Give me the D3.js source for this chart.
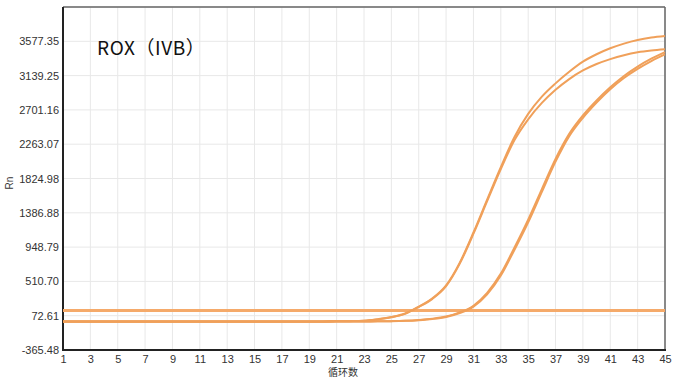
<!DOCTYPE html>
<html>
<head>
<meta charset="utf-8">
<script src="https://cdn.jsdelivr.net/npm/d3@7/dist/d3.min.js"></script>
<style>
html,body{margin:0;padding:0;background:#fff;}
svg{display:block;}
</style>
</head>
<body>
<svg id="chart" width="673" height="381"></svg>
<script>
// ---- data ----
const cycles = d3.range(1, 46);
const yTickValues = [-365.48, 72.61, 510.70, 948.79, 1386.88, 1824.98, 2263.07, 2701.16, 3139.25, 3577.35];
const yTickLabels = ["-365.48", "72.61", "510.70", "948.79", "1386.88", "1824.98", "2263.07", "2701.16", "3139.25", "3577.35"];
const xTickValues = [1,3,5,7,9,11,13,15,17,19,21,23,25,27,29,31,33,35,37,39,41,43,45];
const threshold = 140;
// amplification curves (Rn per cycle 1..45)
const earlyA = [2,2,2,2,2,2,2,2,2,2,2,2,2,2,2,2,2,2,3,3,4,5,9,28,55,100,188,295,460,750,1135,1555,1970,2355,2650,2870,3040,3188,3317,3412,3488,3548,3594,3625,3645];
const earlyB = [-2,-2,-2,-2,-2,-2,-2,-2,-2,-2,-2,-2,-2,-2,-2,-2,-2,-2,-1,0,1,3,7,25,52,96,183,288,450,738,1120,1535,1945,2315,2580,2790,2958,3095,3205,3287,3350,3400,3437,3460,3475];
const lateA = [-4,-4,-4,-4,-4,-4,-4,-4,-4,-4,-4,-4,-4,-4,-4,-4,-4,-4,-4,-4,-3,-2,-1,1,3,8,18,34,62,115,200,365,610,945,1300,1690,2075,2395,2630,2822,2990,3135,3255,3355,3440];
const lateB = [-4,-4,-4,-4,-4,-4,-4,-4,-4,-4,-4,-4,-4,-4,-4,-4,-4,-4,-4,-4,-3,-2,-1,1,3,7,16,31,57,107,188,345,585,915,1265,1655,2040,2365,2600,2795,2965,3108,3225,3325,3410];
const seriesList = [earlyA, earlyB, lateA, lateB];

// ---- layout ----
const svg = d3.select("#chart");
const m = {left: 63, right: 665, top: 7, bottom: 350};
const x = d3.scaleLinear().domain([1, 45]).range([m.left, m.right]);
const yStep = 438.0922;
const y = d3.scaleLinear().domain([-365.48, -365.48 + 10 * yStep]).range([m.bottom, m.top]);

const font = "Liberation Sans, Arial, sans-serif";

// grid
const grid = svg.append("g");
grid.selectAll("line.v").data(xTickValues).enter().append("line")
  .attr("x1", d => x(d)).attr("x2", d => x(d))
  .attr("y1", m.top).attr("y2", m.bottom)
  .attr("stroke", "#e8e8e8").attr("stroke-width", 1);
grid.selectAll("line.h").data(yTickValues.concat([-365.48 + 10 * yStep])).enter().append("line")
  .attr("x1", m.left).attr("x2", m.right)
  .attr("y1", d => y(d)).attr("y2", d => y(d))
  .attr("stroke", "#e8e8e8").attr("stroke-width", 1);

// axes
const yAxis = d3.axisLeft(y).tickValues(yTickValues).tickSize(0).tickPadding(4)
  .tickFormat((d, i) => yTickLabels[i]);
const gy = svg.append("g").attr("transform", `translate(${m.left},0)`).call(yAxis);
gy.select(".domain").remove();
gy.selectAll("text").attr("font-family", font).attr("font-size", 11).attr("fill", "#333");

const xAxis = d3.axisBottom(x).tickValues(xTickValues).tickSize(0).tickPadding(5);
const gx = svg.append("g").attr("transform", `translate(0,${m.bottom})`).call(xAxis);
gx.select(".domain").remove();
gx.selectAll("text").attr("font-family", font).attr("font-size", 11).attr("fill", "#333");

// frame
svg.append("line").attr("x1", m.left).attr("x2", m.right).attr("y1", m.top).attr("y2", m.top)
  .attr("stroke", "#666").attr("stroke-width", 1.5);
svg.append("line").attr("x1", m.right).attr("x2", m.right).attr("y1", m.top).attr("y2", m.bottom)
  .attr("stroke", "#666").attr("stroke-width", 1.5);
svg.append("line").attr("x1", m.left).attr("x2", m.left).attr("y1", m.top).attr("y2", m.bottom + 1)
  .attr("stroke", "#222").attr("stroke-width", 2);
svg.append("line").attr("x1", m.left).attr("x2", m.right + 1).attr("y1", m.bottom).attr("y2", m.bottom)
  .attr("stroke", "#222").attr("stroke-width", 2);

// threshold
svg.append("line").attr("x1", x(1)).attr("x2", x(45))
  .attr("y1", y(threshold)).attr("y2", y(threshold))
  .attr("stroke", "#F5AA6A").attr("stroke-width", 3);

// curves
const line = d3.line().x((d, i) => x(cycles[i])).y(d => y(d)).curve(d3.curveMonotoneX);
svg.append("g").selectAll("path").data(seriesList).enter().append("path")
  .attr("d", line).attr("fill", "none")
  .attr("stroke", "#F0A05A").attr("stroke-width", 2);

// title
svg.append("text").attr("x", 97).attr("y", 55)
  .attr("font-family", "Noto Sans CJK SC, Noto Sans, sans-serif").attr("font-size", 19)
  .attr("letter-spacing", 0.6)
  .attr("fill", "#111").text("ROX（IVB）");

// axis titles
svg.append("text").attr("transform", "translate(13,183) rotate(-90)")
  .attr("text-anchor", "middle").attr("font-family", font).attr("font-size", 10)
  .attr("fill", "#333").text("Rn");
svg.append("text").attr("x", 343).attr("y", 376).attr("text-anchor", "middle")
  .attr("font-family", "Noto Sans CJK SC, sans-serif").attr("font-size", 10)
  .attr("fill", "#333").text("循环数");
</script>
</body>
</html>
